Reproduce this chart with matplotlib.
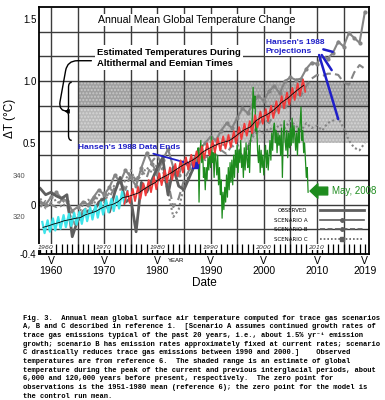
import numpy as np
import matplotlib
matplotlib.use("Agg")
import matplotlib.pyplot as plt
import matplotlib.transforms as mtransforms
from matplotlib.lines import Line2D
from matplotlib.path import Path
from matplotlib.patches import PathPatch
from matplotlib.ticker import MultipleLocator

# model runs and observations (deg C)
years = list(range(1958, 2020))
obs_years = list(range(1958, 1988))
observed = [0.13, 0.08, 0.10, 0.07, 0.05, 0.08, -0.26, -0.13, -0.08, -0.05,
            -0.06, 0.02, 0.05, -0.06, 0.10, 0.22, 0.02, 0.05, -0.22, 0.18,
            0.10, 0.20, 0.30, 0.38, 0.08, 0.30, 0.15, 0.12, 0.22, 0.32]
scen_a = [0.02, 0.00, 0.06, 0.10, 0.05, 0.03, -0.05, -0.02, 0.02, 0.00,
          0.06, 0.12, 0.08, 0.14, 0.24, 0.18, 0.28, 0.22, 0.15, 0.30,
          0.42, 0.33, 0.25, 0.36, 0.45, 0.30, 0.24, 0.35, 0.30, 0.38,
          0.45, 0.50, 0.55, 0.52, 0.60, 0.66, 0.62, 0.70, 0.78, 0.74,
          0.82, 0.88, 0.84, 0.92, 0.96, 0.90, 1.00, 1.03, 1.01, 1.02,
          1.10, 1.15, 1.14, 1.21, 1.18, 1.23, 1.32, 1.28, 1.39, 1.35, 1.31, 1.56]
scen_b = [-0.02, 0.03, 0.00, -0.02, 0.04, 0.00, -0.18, -0.12, -0.05, -0.02,
          0.04, 0.00, 0.10, 0.06, 0.14, 0.20, 0.12, 0.25, 0.20, 0.28,
          0.22, 0.35, 0.40, 0.30, 0.18, -0.02, 0.05, 0.20, 0.28, 0.34,
          0.40, 0.38, 0.42, 0.40, 0.44, 0.41, 0.48, 0.44, 0.36, 0.47,
          0.58, 0.65, 0.70, 0.66, 0.74, 0.80, 0.78, 0.85, 0.90, 0.88,
          0.96, 1.02, 1.05, 1.04, 1.06, 1.06, 1.05, 0.99, 0.97, 1.07, 1.13, 1.10]
scen_c = [0.05, -0.03, 0.02, 0.04, -0.02, 0.02, -0.15, -0.10, 0.00, 0.04,
          0.00, 0.08, 0.02, 0.10, 0.16, 0.12, 0.20, 0.28, 0.18, 0.24,
          0.30, 0.26, 0.33, 0.28, 0.10, -0.10, -0.04, 0.15, 0.24, 0.30,
          0.42, 0.36, 0.45, 0.50, 0.46, 0.52, 0.55, 0.50, 0.38, 0.46,
          0.55, 0.60, 0.58, 0.62, 0.60, 0.65, 0.62, 0.68, 0.64, 0.60,
          0.66, 0.62, 0.64, 0.60, 0.66, 0.68, 0.70, 0.62, 0.52, 0.46, 0.44, 0.50]

# Mauna Loa CO2 overlay (ppm): annual mean, spring peak, autumn trough
co2_years = list(range(1958, 2008))
co2_mean = [315.3, 316.0, 316.9, 317.6, 318.5, 319.0, 319.6, 320.0, 321.4, 322.2,
            323.1, 324.6, 325.7, 326.3, 327.5, 329.7, 330.2, 331.1, 332.0, 333.8,
            335.4, 336.8, 338.8, 340.1, 341.5, 343.2, 344.9, 346.4, 347.6, 349.3,
            351.7, 353.2, 354.5, 355.7, 356.5, 357.2, 359.0, 361.0, 362.7, 363.9,
            366.8, 368.5, 369.7, 371.3, 373.5, 376.0, 377.7, 380.0, 382.1, 384.0]
co2_peak = [317.9, 318.7, 319.6, 320.3, 321.2, 321.8, 322.3, 322.8, 324.1, 324.9,
            325.8, 327.4, 328.5, 329.1, 330.3, 332.5, 332.9, 333.9, 334.8, 336.6,
            338.2, 339.6, 341.5, 342.9, 344.3, 346.0, 347.7, 349.2, 350.4, 352.1,
            354.5, 356.0, 357.3, 358.5, 359.3, 360.0, 361.8, 363.8, 365.5, 366.7,
            369.6, 371.3, 372.5, 374.1, 376.3, 378.8, 380.5, 382.8, 384.9, 386.8]
co2_trough = [312.5, 313.2, 313.8, 314.6, 315.4, 316.0, 316.6, 317.0, 318.3, 319.1,
              320.0, 321.5, 322.6, 323.2, 324.4, 326.6, 327.1, 328.0, 329.0, 330.7,
              332.3, 333.7, 335.7, 337.0, 338.4, 340.1, 341.8, 343.3, 344.5, 346.2,
              348.6, 350.1, 351.4, 352.6, 353.4, 354.1, 355.9, 357.9, 359.6, 360.8,
              363.7, 365.4, 366.6, 368.2, 370.4, 372.9, 374.6, 376.9, 379.0, 380.9]
co2_split_year = 1974

# satellite temperatures added to the chart, every two months Jul 1987 - May 2008
sat_start = 1987.5
sat_temp = [0.30, 0.46, 0.02,
            0.40, 0.52, 0.34, 0.48, 0.22, 0.30,
            0.12, 0.30, 0.20, 0.38, 0.28, 0.44,
            0.30, 0.55, 0.34, 0.42, 0.22, 0.46,
            0.36, 0.24, 0.40, 0.16, 0.30, 0.08,
            0.20, -0.11, 0.10, -0.04, 0.14, 0.02,
            0.24, 0.06, 0.30, 0.12, 0.34, 0.18,
            0.36, 0.16, 0.40, 0.22, 0.44, 0.30,
            0.48, 0.26, 0.44, 0.34, 0.52, 0.30,
            0.40, 0.22, 0.46, 0.28, 0.50, 0.36,
            0.30, 0.48, 0.26, 0.52, 0.56, 0.70,
            0.95, 0.78, 0.88, 0.60, 0.66, 0.44,
            0.34, 0.48, 0.26, 0.44, 0.30, 0.40,
            0.24, 0.38, 0.48, 0.30, 0.44, 0.28,
            0.40, 0.52, 0.36, 0.58, 0.44, 0.62,
            0.66, 0.50, 0.60, 0.42, 0.58, 0.48,
            0.56, 0.40, 0.62, 0.22, 0.56, 0.68,
            0.52, 0.44, 0.60, 0.38, 0.58, 0.46,
            0.62, 0.48, 0.70, 0.50, 0.64, 0.56,
            0.44, 0.58, 0.40, 0.62, 0.50, 0.66,
            0.79, 0.52, 0.60, 0.42, 0.50, 0.36,
            0.22, 0.30, 0.10]

band_start = 1965
band_dark = (0.8, 1.0)
band_light = (0.5, 0.8)

xtick_years = [1960, 1970, 1980, 1990, 2000, 2010, 2019]
grid_years = list(range(1960, 2019, 5))
grid_temps = [-0.2, 0.0, 0.2, 0.4, 0.6, 0.8, 1.0, 1.2, 1.4]
ytick_vals = [-0.4, 0.0, 0.5, 1.0, 1.5]
ytick_labels = ['-0.4', '0', '0.5', '1.0', '1.5']
co2_tick_vals = [320, 340]
decade_pos = [1959, 1970, 1980, 1990, 2000, 2010]
decade_text = ['1960', '1970', '1980', '1990', '2000', '2010']

caption = [
    "Fig. 3.  Annual mean global surface air temperature computed for trace gas scenarios",
    "A, B and C described in reference 1.  [Scenario A assumes continued growth rates of",
    "trace gas emissions typical of the past 20 years, i.e., about 1.5% yr\u207b\u00b9 emission",
    "growth; scenario B has emission rates approximately fixed at current rates; scenario",
    "C drastically reduces trace gas emissions between 1990 and 2000.]    Observed",
    "temperatures are from reference 6.  The shaded range is an estimate of global",
    "temperature during the peak of the current and previous interglacial periods, about",
    "6,000 and 120,000 years before present, respectively.  The zero point for",
    "observations is the 1951-1980 mean (reference 6); the zero point for the model is",
    "the control run mean.",
]

blue = '#1f1fc8'
green = '#1e8c1e'
gray_dark = '#5e5e5e'
gray = '#858585'
grid_color = '#3c3c3c'

fig = plt.figure(figsize=(3.85, 4.0), dpi=100)
ax = fig.add_axes([0.1013, 0.365, 0.857, 0.6175])
ax.set_xlim(1957.75, 2019.77)
ax.set_ylim(-0.4, 1.6)

# shaded interglacial range
ax.fill_between([band_start, 2021], band_dark[0], band_dark[1], facecolor='#a0a0a0',
                edgecolor='#c8c8c8', hatch='.....', lw=0, zorder=0.2)
ax.fill_between([band_start, 2021], band_light[0], band_light[1], facecolor='#b8b8b8',
                edgecolor='#d6d6d6', hatch='.....', lw=0, zorder=0.2)

ax.vlines(grid_years, -0.4, 1.6, color=grid_color, lw=1.0, zorder=0.5)
ax.hlines(grid_temps, 1957, 2021, color=grid_color, lw=1.0, zorder=0.5)

# model scenarios and observations
ax.plot(years, scen_c, color=gray, lw=1.5, ls=(0, (1, 1.2)), zorder=2)
ax.plot(years, scen_b, color=gray, lw=1.5, ls=(0, (4, 2)), zorder=2)
ax.plot(years, scen_a, color=gray, lw=1.5, marker='o', ms=2, zorder=2)
ax.plot(obs_years, observed, color=gray_dark, lw=2.0, zorder=2.2)

# satellite record
sat_x = sat_start + np.arange(len(sat_temp)) / 6
ax.plot(sat_x, sat_temp, color=green, lw=0.9, zorder=2.4)

# CO2 on its own scale
ax2 = ax.twinx()
ax2.set_ylim(302.4, 421.9)
ax2.set_axis_off()
zx, zy = [], []
for yr, hi, lo in zip(co2_years, co2_peak, co2_trough):
    zx += [yr + 0.37, yr + 0.8]
    zy += [hi, lo]
zx = np.array(zx)
zy = np.array(zy)
early = zx < co2_split_year + 0.5
ax2.plot(zx[early], zy[early], color='#3ee4ea', lw=1.6)
late = zx >= co2_split_year - 0.3
ax2.plot(zx[late], zy[late], color='#f03a3a', lw=1.3)
ax2.plot(np.array(co2_years) + 0.5, co2_mean, color='black', lw=0.6)

trans_co2 = mtransforms.blended_transform_factory(ax.transAxes, ax2.transData)
for v in co2_tick_vals:
    ax.text(-0.042, v, str(v), transform=trans_co2, ha='right', va='center',
            fontsize=5.5, color='#555555', family='Liberation Sans')

# axes styling
for s in ax.spines.values():
    s.set_linewidth(1.3)
ax.set_xticks(xtick_years)
ax.set_xticklabels(['V\n' + str(y) for y in xtick_years], family='Liberation Sans',
                   linespacing=0.95)
ax.xaxis.set_minor_locator(MultipleLocator(1))
ax.tick_params(axis='x', which='both', direction='in', length=7, width=0.9,
               pad=1.5, labelsize=7.5)
ax.set_yticks(ytick_vals)
ax.set_yticklabels(ytick_labels, family='Liberation Sans')
ax.tick_params(axis='y', length=0, pad=2, labelsize=7)
ax.set_xlabel('Date', fontsize=8.5, family='Liberation Sans', labelpad=1)

trans_x = mtransforms.blended_transform_factory(ax.transData, ax.transAxes)
for pos, txt in zip(decade_pos, decade_text):
    ax.text(pos, 0.028, txt, transform=trans_x,
            ha='center', va='center', fontsize=4.5, style='italic', color='#333333',
            bbox=dict(facecolor='white', edgecolor='none', pad=0.3), zorder=3)
ax.text(1981.9, -0.027, 'YEAR', transform=trans_x, ha='left', va='center',
        fontsize=4.3, family='Liberation Sans', clip_on=False)

# texts in the upper panel
ax.text(1987.3, 1.494, 'Annual Mean Global Temperature Change', ha='center', va='center',
        fontsize=7.6, family='Liberation Sans',
        bbox=dict(facecolor='white', edgecolor='none', pad=1.0), zorder=4)
ax.text(1968.65, 1.188, 'Estimated Temperatures During\nAltithermal and Eemian Times',
        ha='left', va='center', fontsize=6.8, weight='bold', family='Liberation Sans',
        linespacing=1.3, bbox=dict(facecolor='white', edgecolor='none', pad=1.8), zorder=4)
ax.annotate('', xy=(1962.5, 0.755), xytext=(1967.6, 1.165),
            arrowprops=dict(arrowstyle='-|>', color='black', lw=1.0, mutation_scale=6,
                            connectionstyle='arc,angleA=180,angleB=180,armA=24,armB=6,rad=10',
                            shrinkA=0, shrinkB=0), zorder=4)
brace = Path([(1963.9, 0.99), (1963.3, 0.99), (1963.3, 0.95), (1963.3, 0.79),
              (1963.3, 0.76), (1962.8, 0.755), (1963.3, 0.75), (1963.3, 0.72),
              (1963.3, 0.56), (1963.3, 0.52), (1963.9, 0.52)],
             [Path.MOVETO, Path.CURVE3, Path.CURVE3, Path.LINETO,
              Path.CURVE3, Path.CURVE3, Path.CURVE3, Path.CURVE3,
              Path.LINETO, Path.CURVE3, Path.CURVE3])
ax.add_patch(PathPatch(brace, facecolor='none', edgecolor='black', lw=1.0, zorder=4))

# blue annotations
ax.plot(obs_years[-1], observed[-1], marker='s', ms=4.5, color=blue, zorder=5)
ax.annotate("Hansen's 1988 Data Ends", xy=(obs_years[-1], observed[-1]),
            xytext=(1974.7, 0.466), ha='center', va='center', fontsize=6,
            weight='bold', color=blue, family='Liberation Sans',
            arrowprops=dict(arrowstyle='-|>', color=blue, lw=1.3, mutation_scale=6,
                            shrinkA=1, shrinkB=3), zorder=5)
ax.text(2000.4, 1.275, "Hansen's 1988\nProjections", ha='left', va='center',
        fontsize=6, weight='bold', color=blue, family='Liberation Sans', linespacing=1.3,
        bbox=dict(facecolor='white', edgecolor='none', pad=0.5), zorder=4)
for start, end in [((2011.2, 1.257), (2012.95, 1.237)),
                   ((2010.9, 1.211), (2012.76, 1.089)),
                   ((2010.4, 1.211), (2014.0, 0.692))]:
    ax.annotate('', xy=end, xytext=start,
                arrowprops=dict(arrowstyle='-', color=blue, lw=1.8,
                                shrinkA=0, shrinkB=0), zorder=5)

ax.annotate('May, 2008', xy=(2008.7, 0.11), xytext=(2012.8, 0.11), ha='left',
            va='center', fontsize=7, color=green, family='Liberation Sans',
            arrowprops=dict(arrowstyle='simple,head_length=0.7,head_width=1.3,tail_width=0.7',
                            color=green, mutation_scale=8, shrinkA=1, shrinkB=0),
            zorder=5)

# legend
handles = [Line2D([], [], color=gray_dark, lw=2.0),
           Line2D([], [], color=gray_dark, lw=1.2, marker='o', ms=2.5),
           Line2D([], [], color=gray_dark, lw=1.2, ls=(0, (3, 1.5)), marker='o', ms=2.5),
           Line2D([], [], color=gray_dark, lw=1.2, ls=(0, (1, 1.2)), marker='s', ms=2.5)]
ax.legend(handles, ['OBSERVED', 'SCENARIO A', 'SCENARIO B', 'SCENARIO C'],
          loc='lower right', bbox_to_anchor=(0.995, 0.035), frameon=False, fontsize=4,
          markerfirst=False, handlelength=8, numpoints=1, labelspacing=0.85,
          handletextpad=2.2, borderaxespad=0.2)

fig.text(10 / 385, 0.705, '\u0394T (\u00b0C)', rotation=90, ha='center', va='center',
         fontsize=8.5, family='Liberation Sans')

for i, line in enumerate(caption):
    fig.text(23 / 385, 1 - (318 + 8.67 * i) / 400, line, ha='left', va='center',
             fontsize=5.1, weight='bold', family=['Liberation Mono', 'DejaVu Sans Mono'])

fig.savefig('out.png', dpi=100)
